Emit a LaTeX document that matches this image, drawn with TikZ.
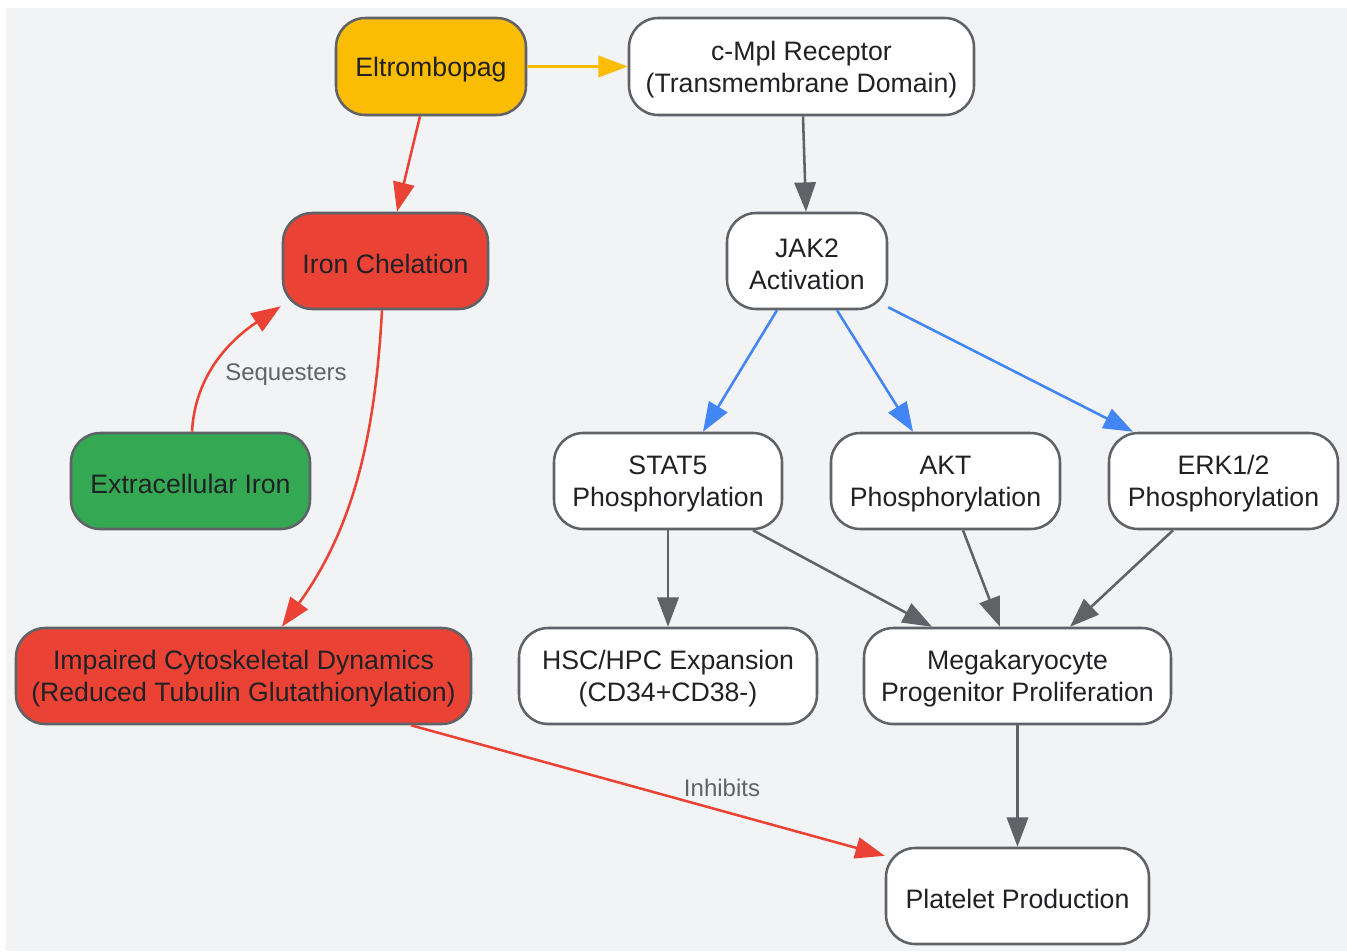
\documentclass[tikz,border=0pt]{standalone}
\usepackage{fontspec}
\setmainfont{Liberation Sans}
\usetikzlibrary{arrows.meta,calc}
\definecolor{bgc}{HTML}{F1F3F4}
\definecolor{gline}{HTML}{5F6368}
\definecolor{txt}{HTML}{202124}
\definecolor{yel}{HTML}{FBBC04}
\definecolor{redc}{HTML}{EA4335}
\definecolor{grn}{HTML}{34A853}
\definecolor{blu}{HTML}{4285F4}
\newcommand{\tl}{\rule{0pt}{19pt}}
\tikzset{
  box/.style 2 args={draw=gline, line width=1.9pt, rounded corners=22pt, fill=white,
    minimum width=#1*0.75pt, minimum height=#2*0.75pt, inner sep=0pt, align=center,
    text=txt, font=\fontsize{20}{24}\selectfont},
  lbl/.style={text=gline, font=\fontsize{18}{22}\selectfont, inner sep=0pt},
  conn/.style={line width=1.9pt, draw=gline, -{Triangle[length=22pt,width=16pt]}},
}
\begin{document}
\begin{tikzpicture}[x=0.75pt,y=-0.75pt]
\useasboundingbox (0,0) rectangle (1347,951);
\fill[bgc] (6,8) rectangle (1347,951);

\node[box={190}{97}, fill=yel] (elt) at (431,66.5) {\tl Eltrombopag};
\node[box={345}{97}] (cmpl) at (801.5,66.5) {\tl c-Mpl Receptor\\(Transmembrane Domain)};
\node[box={205}{96}, fill=redc] (iron) at (385.5,261) {\tl Iron Chelation};
\node[box={160}{96}] (jak) at (807,261) {\tl JAK2\\Activation};
\node[box={239}{96}, fill=grn] (ext) at (190.5,481) {\tl Extracellular Iron};
\node[box={228}{96}] (stat) at (668,481) {\tl STAT5\\Phosphorylation};
\node[box={229}{96}] (akt) at (945.5,481) {\tl AKT\\Phosphorylation};
\node[box={229}{96}] (erk) at (1223.5,481) {\tl ERK1/2\\Phosphorylation};
\node[box={455}{96}, fill=redc] (imp) at (243.5,676) {\tl Impaired Cytoskeletal Dynamics\\(Reduced Tubulin Glutathionylation)};
\node[box={298}{96}] (hsc) at (668,676) {\tl HSC/HPC Expansion\\(CD34+CD38-)};
\node[box={307}{96}] (mega) at (1017.5,676) {\tl Megakaryocyte\\Progenitor Proliferation};
\node[box={263}{96}] (plat) at (1017.5,896) {\tl Platelet Production};

\draw[conn, draw=yel, color=yel] (elt.east) -- (cmpl.west);
\draw[conn, draw=redc, color=redc] ($(elt.south)+(-11,0)$) -- ($(iron.north)+(11.5,0)$);
\draw[conn] ($(cmpl.south)+(1.5,0)$) -- ($(jak.north)+(-1,0)$);
\draw[conn, draw=blu, color=blu] ($(jak.south)+(-30,0)$) -- ($(stat.north)+(35,0)$);
\draw[conn, draw=blu, color=blu] ($(jak.south)+(30,0)$) -- ($(akt.north)+(-32.5,0)$);
\draw[conn, draw=blu, color=blu] ($(jak.south east)+(0,-3)$) -- ($(erk.north)+(-90.5,0)$);
\draw[conn, draw=redc, color=redc] ($(ext.north)+(1.5,0)$) .. controls (195,375) and (230,340) .. ($(iron.south west)+(-1,-4)$);
\node[lbl] (seq) at (286,375) {Sequesters};
\draw[conn, draw=redc, color=redc] ($(iron.south)+(-3.5,0)$) .. controls (375,440) and (352,530) .. ($(imp.north)+(38.5,0)$);
\draw[conn] (stat.south) -- (hsc.north);
\draw[conn] ($(stat.south)+(85,0)$) -- ($(mega.north)+(-85.5,0)$);
\draw[conn] ($(akt.south)+(17.5,0)$) -- ($(mega.north)+(-17.5,0)$);
\draw[conn] ($(erk.south)+(-50.5,0)$) -- ($(mega.north)+(52.5,0)$);
\draw[conn] (mega.south) -- (plat.north);
\draw[conn, draw=redc, color=redc] ($(imp.south)+(167.5,0)$) -- ($(plat.north west)+(0,9)$);
\node[lbl] (inh) at (722,788) {Inhibits};
\end{tikzpicture}
\end{document}
